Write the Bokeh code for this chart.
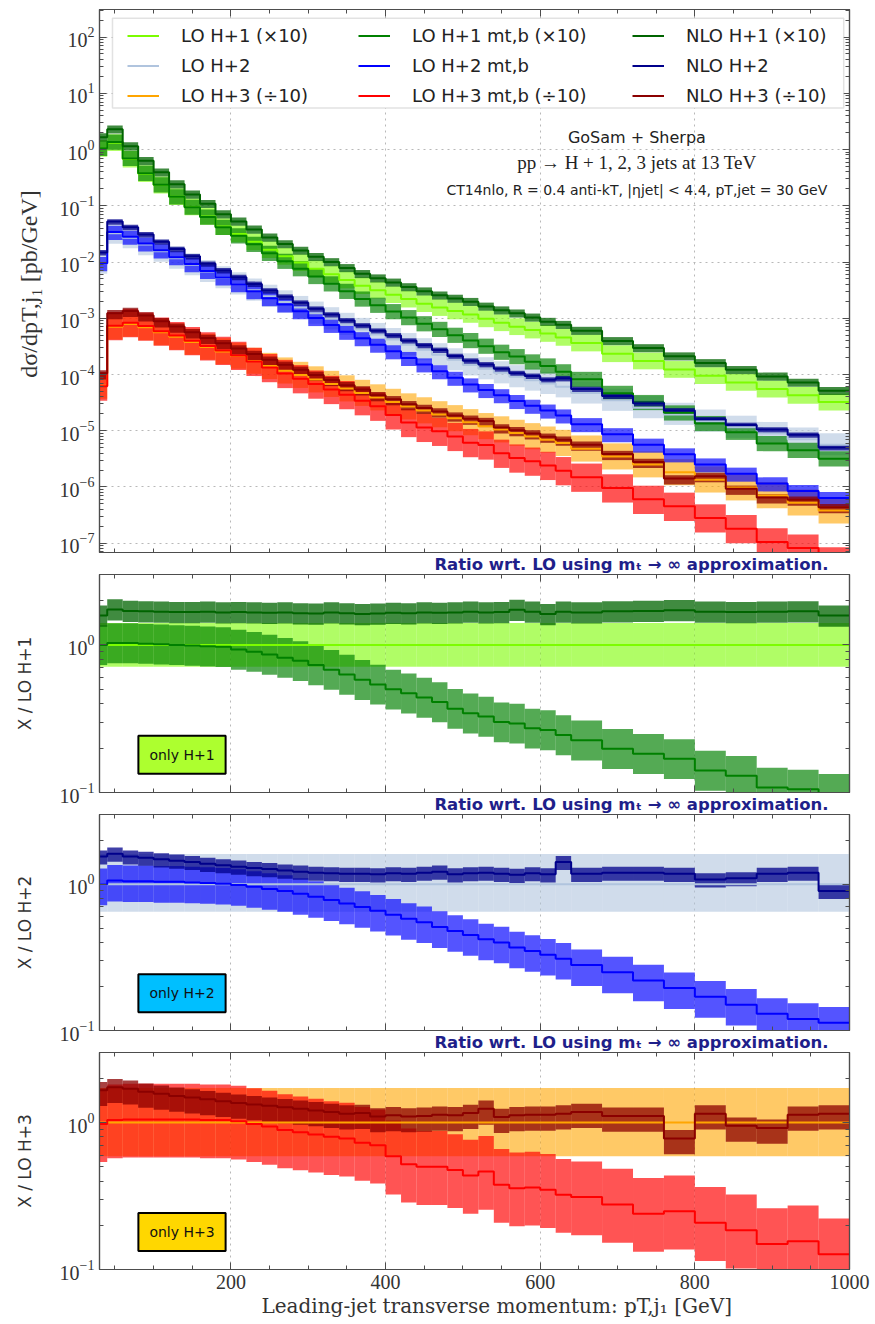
from bokeh.plotting import figure
from bokeh.models import (Range1d, FixedTicker, LinearAxis, LogAxis, Legend, LegendItem, Label,
                          BoxAnnotation, CustomJSTickFormatter, Title)
from bokeh.layouts import column
from bokeh.embed import file_html
from bokeh.resources import INLINE

# ---------------- data ----------------
bin_edges = [30, 40, 60, 80, 100, 120, 140, 160, 180, 200, 220, 240, 260, 280, 300, 320,
             340, 360, 380, 400, 420, 440, 460, 480, 500, 520, 540, 560, 580, 600, 620, 640,
             680, 720, 760, 800, 840, 880, 920, 960, 1000]

# LO (m_t -> infinity) central values as plotted in the main panel [pb/GeV]
lo_h1_x10 = [1.05, 1.32, 0.676, 0.372, 0.234, 0.145, 0.0955, 0.0646, 0.0427, 0.0316,
             0.0229, 0.0166, 0.0126, 0.00977, 0.00759, 0.00603, 0.00479, 0.00380, 0.00316, 0.00263,
             0.00219, 0.00182, 0.00155, 0.00135, 0.00117, 9.77e-4, 8.32e-4, 7.08e-4, 6.17e-4, 5.37e-4,
             4.57e-4, 3.63e-4, 2.34e-4, 1.74e-4, 1.23e-4, 9.55e-5, 7.24e-5, 5.50e-5, 4.27e-5, 3.24e-5]
lo_h2 = [9.55e-3, 0.0324, 0.0269, 0.0204, 0.0155, 0.0117, 8.91e-3, 6.76e-3, 5.25e-3, 4.07e-3,
         3.16e-3, 2.45e-3, 1.95e-3, 1.55e-3, 1.23e-3, 9.77e-4, 7.76e-4, 6.31e-4, 5.13e-4, 4.17e-4,
         3.39e-4, 2.75e-4, 2.24e-4, 1.82e-4, 1.48e-4, 1.26e-4, 1.07e-4, 9.12e-5, 7.94e-5, 6.92e-5,
         6.03e-5, 4.68e-5, 3.47e-5, 2.57e-5, 1.95e-5, 1.48e-5, 1.15e-5, 8.91e-6, 7.08e-6, 5.62e-6]
lo_h3_d10 = [6.31e-5, 7.08e-4, 7.94e-4, 6.92e-4, 5.62e-4, 4.68e-4, 3.80e-4, 3.09e-4, 2.57e-4, 2.14e-4,
             1.74e-4, 1.41e-4, 1.17e-4, 9.77e-5, 8.13e-5, 6.76e-5, 5.62e-5, 4.68e-5, 3.89e-5, 3.24e-5,
             2.69e-5, 2.29e-5, 1.95e-5, 1.66e-5, 1.41e-5, 1.20e-5, 1.05e-5, 9.12e-6, 7.94e-6, 6.92e-6,
             6.03e-6, 4.79e-6, 3.47e-6, 2.51e-6, 1.82e-6, 1.35e-6, 9.77e-7, 7.08e-7, 5.25e-7, 3.80e-7]

# ratios X / LO
mtb_h1 = [1.00, 1.03, 1.03, 1.02, 1.01, 1.00, 0.99, 0.98, 0.97, 0.93,
          0.90, 0.86, 0.82, 0.78, 0.73, 0.68, 0.63, 0.58, 0.54, 0.50,
          0.47, 0.44, 0.41, 0.37, 0.344, 0.327, 0.30, 0.294, 0.272, 0.265,
          0.245, 0.226, 0.198, 0.183, 0.169, 0.141, 0.130, 0.108, 0.105, 0.098]
nlo_h1 = [1.58, 1.74, 1.70, 1.69, 1.68, 1.67, 1.67, 1.68, 1.66, 1.67,
          1.66, 1.65, 1.66, 1.64, 1.63, 1.66, 1.64, 1.62, 1.63, 1.65,
          1.64, 1.66, 1.65, 1.66, 1.68, 1.66, 1.67, 1.73, 1.68, 1.62,
          1.68, 1.66, 1.69, 1.70, 1.72, 1.68, 1.67, 1.68, 1.69, 1.58]
mtb_h2 = [1.00, 1.06, 1.05, 1.05, 1.04, 1.04, 1.03, 1.02, 1.01, 0.99,
          0.96, 0.93, 0.90, 0.86, 0.82, 0.78, 0.74, 0.70, 0.66, 0.62,
          0.58, 0.55, 0.51, 0.48, 0.45, 0.42, 0.40, 0.37, 0.35, 0.33,
          0.31, 0.28, 0.25, 0.22, 0.195, 0.17, 0.15, 0.13, 0.12, 0.113]
nlo_h2 = [1.55, 1.62, 1.55, 1.52, 1.48, 1.45, 1.42, 1.38, 1.35, 1.32,
          1.29, 1.27, 1.24, 1.22, 1.20, 1.19, 1.18, 1.18, 1.17, 1.19,
          1.18, 1.20, 1.22, 1.17, 1.19, 1.20, 1.18, 1.16, 1.19, 1.17,
          1.42, 1.18, 1.20, 1.20, 1.18, 1.08, 1.10, 1.18, 1.20, 0.90]
mtb_h3 = [0.98, 1.04, 1.05, 1.05, 1.05, 1.05, 1.05, 1.04, 1.04, 1.02,
          0.98, 0.94, 0.89, 0.86, 0.83, 0.80, 0.78, 0.73, 0.70, 0.59,
          0.52, 0.50, 0.50, 0.476, 0.436, 0.464, 0.378, 0.358, 0.362, 0.349,
          0.323, 0.311, 0.277, 0.24, 0.249, 0.208, 0.185, 0.149, 0.156, 0.127]
nlo_h3 = [1.66, 1.74, 1.70, 1.62, 1.57, 1.52, 1.48, 1.44, 1.40, 1.36,
          1.33, 1.30, 1.27, 1.24, 1.21, 1.18, 1.15, 1.16, 1.10, 1.12,
          1.10, 1.11, 1.13, 1.12, 1.16, 1.24, 1.09, 1.12, 1.13, 1.13,
          1.15, 1.18, 1.11, 1.11, 0.78, 1.15, 0.95, 0.92, 1.13, 1.15]

# scale-variation band edges relative to the central value (lower, upper)
lo_band = [(0.71, 1.41), (0.65, 1.61), (0.59, 1.72)]
mtb_band = [(0.73, 1.36), (0.72, 1.28), (0.55, 1.75)]
nlo_band = [(0.84, 1.17), (0.88, 1.10), (0.78, 1.14)]

labels_lo = ["LO H+1 (×10)", "LO H+2", "LO H+3 (÷10)"]
labels_mtb = ["LO H+1 mt,b (×10)", "LO H+2 mt,b", "LO H+3 mt,b (÷10)"]
labels_nlo = ["NLO H+1 (×10)", "NLO H+2", "NLO H+3 (÷10)"]
ratio_ylabels = ["X / LO H+1", "X / LO H+2", "X / LO H+3"]
only_labels = ["only H+1", "only H+2", "only H+3"]
ratio_note = "Ratio wrt. LO using mₜ → ∞ approximation."

x_major = [200, 400, 600, 800, 1000]
x_minor = [50, 100, 150, 250, 300, 350, 450, 500, 550, 650, 700, 750, 850, 900, 950]
x_grid = [200, 400, 600, 800]
main_decades = [1e-7, 1e-6, 1e-5, 1e-4, 1e-3, 1e-2, 1e-1, 1e0, 1e1, 1e2]
ratio_major = [0.1, 1.0]
ratio_minor = [0.2, 0.3, 0.4, 0.5, 0.6, 0.7, 0.8, 0.9, 2.0, 3.0]

# ---------------- styles ----------------
C_LO = ["#7cfc00", "#b0c4de", "#ffa500"]
C_MTB = ["#008000", "#0000ff", "#ff0000"]
C_NLO = ["#006400", "#00008b", "#8b0000"]
C_ONLY = ["#adff2f", "#00bfff", "#ffd700"]
A_LO, A_MTB, A_NLO = 0.6, 0.67, 0.75
AX = "#4d4d4d"
SERIF = "Liberation Serif"
SANS = "DejaVu Sans"
NOTE_COLOR = "#1f1f8a"

lo_main = [lo_h1_x10, lo_h2, lo_h3_d10]
mtb_ratio = [mtb_h1, mtb_h2, mtb_h3]
nlo_ratio = [nlo_h1, nlo_h2, nlo_h3]

left = bin_edges[:-1]
right = bin_edges[1:]
main_minor = [m * d for d in [1e-8] + main_decades for m in range(2, 10)]

xr = Range1d(30, 1000)


def add_band(p, vals, band, color, alpha):
    p.quad(left=left, right=right, bottom=[v * band[0] for v in vals],
           top=[v * band[1] for v in vals], fill_color=color, fill_alpha=alpha, line_color=None)


def add_line(p, vals, color, width=2):
    return p.step(x=bin_edges, y=list(vals) + [vals[-1]], mode="after",
                  line_color=color, line_width=width)


def style_axis(ax, ticker, labels):
    ax.ticker = ticker
    ax.axis_line_color = AX
    ax.axis_line_width = 1.2
    ax.major_tick_line_color = AX
    ax.minor_tick_line_color = AX
    ax.major_tick_in = 7
    ax.major_tick_out = 0
    ax.minor_tick_in = 4
    ax.minor_tick_out = 0
    ax.major_label_text_font = SERIF
    ax.major_label_text_color = "#333333"
    ax.major_label_text_font_size = "20px"
    ax.axis_label_text_font_style = "normal"
    ax.axis_label_text_color = "#333333"
    if not labels:
        ax.formatter = CustomJSTickFormatter(code="return '';")
        ax.major_label_standoff = 0
    else:
        ax.major_label_standoff = 5


def new_fig(height, yr, btop, bbottom, ymajor, yminor, xlabels):
    p = figure(width=875, height=height, x_range=xr, y_range=yr, y_axis_type="log",
               output_backend="svg", toolbar_location=None,
               min_border_left=99, min_border_right=26, min_border_top=btop,
               min_border_bottom=bbottom)
    p.outline_line_color = AX
    p.outline_line_width = 1.2
    p.background_fill_color = "white"
    p.border_fill_color = "white"
    xt = FixedTicker(ticks=x_major, minor_ticks=x_minor)
    yt = FixedTicker(ticks=ymajor, minor_ticks=yminor)
    bottom_ax = p.xaxis[0]
    left_ax = p.yaxis[0]
    style_axis(bottom_ax, xt, xlabels)
    style_axis(left_ax, yt, True)
    top_ax = LinearAxis()
    style_axis(top_ax, xt, False)
    p.add_layout(top_ax, "above")
    right_ax = LogAxis()
    style_axis(right_ax, yt, False)
    p.add_layout(right_ax, "right")
    p.xgrid.ticker = FixedTicker(ticks=x_grid)
    p.ygrid.ticker = FixedTicker(ticks=ymajor)
    p.grid.grid_line_color = "#b8b8b8"
    p.grid.grid_line_dash = "2 4"
    p.grid.grid_line_width = 1
    return p, bottom_ax, left_ax


def add_note(p):
    # "Ratio wrt. ..." note shown just above the next ratio panel
    p.add_layout(Title(text=ratio_note, align="right", offset=21, standoff=1,
                       text_font=SANS, text_font_size="16.5px", text_font_style="bold",
                       text_color=NOTE_COLOR), "below")


# ---------------- main panel ----------------
p0, _, y0 = new_fig(574, Range1d(6.84e-8, 309), 9, 21, main_decades, main_minor, False)
y0.axis_label = "dσ/dpT,j₁  [pb/GeV]"
y0.axis_label_text_font = SERIF
y0.axis_label_text_font_size = "24px"
y0.axis_label_standoff = 15

mtb_main = [[a * b for a, b in zip(lo_main[g], mtb_ratio[g])] for g in range(3)]
nlo_main = [[a * b for a, b in zip(lo_main[g], nlo_ratio[g])] for g in range(3)]

for g in range(3):
    add_band(p0, lo_main[g], lo_band[g], C_LO[g], A_LO)
for g in range(3):
    add_band(p0, mtb_main[g], mtb_band[g], C_MTB[g], A_MTB)
for g in range(3):
    add_band(p0, nlo_main[g], nlo_band[g], C_NLO[g], A_NLO)
r_lo = [add_line(p0, lo_main[g], C_LO[g]) for g in range(3)]
r_mtb = [add_line(p0, mtb_main[g], C_MTB[g]) for g in range(3)]
r_nlo = [add_line(p0, nlo_main[g], C_NLO[g]) for g in range(3)]

# legend frame + three legend columns
p0.add_layout(BoxAnnotation(left=46.8, right=992.5, bottom=5.49, top=216, fill_color="white",
                            fill_alpha=1.0, line_color="#a0a0a0", line_width=1.5))
for col, (labs, rends) in enumerate([(labels_lo, r_lo), (labels_mtb, r_mtb), (labels_nlo, r_nlo)]):
    leg = Legend(items=[LegendItem(label=l, renderers=[r]) for l, r in zip(labs, rends)],
                 location=[(28, 446), (259, 446), (533, 446)][col],
                 orientation="vertical", padding=0, margin=0, spacing=9,
                 glyph_width=32, glyph_height=21, label_height=21, label_standoff=22,
                 border_line_alpha=0, background_fill_alpha=0,
                 label_text_font=SANS, label_text_font_size="18px", label_text_color="#222222")
    p0.add_layout(leg, "center")

for txt, yy, font, size in [("GoSam + Sherpa", 1.61, SANS, "16px"),
                            ("pp → H + 1, 2, 3 jets at 13 TeV", 0.58, SERIF, "19px"),
                            ("CT14nlo, R = 0.4 anti-kT, |ηjet| < 4.4, pT,jet = 30 GeV", 0.193, SANS, "14px")]:
    p0.add_layout(Label(x=725, y=yy, text=txt, text_align="center", text_baseline="middle",
                        text_font=font, text_font_size=size, text_color="#222222"))
add_note(p0)

# ---------------- ratio panels ----------------
ratio_specs = [(240, 0, 22, False, True), (238, 0, 22, False, True), (272, 0, 55, True, False)]
figs = [p0]
for g in range(3):
    h, bt, bb, xl, has_note = ratio_specs[g]
    p, bx, ly = new_fig(h, Range1d(0.1, 3.0), bt, bb, ratio_major, ratio_minor, xl)
    ly.axis_label = ratio_ylabels[g]
    ly.axis_label_text_font = SANS
    ly.axis_label_text_font_size = "17px"
    ly.axis_label_standoff = 22
    ones = [v / v for v in lo_main[g]]
    add_band(p, ones, lo_band[g], C_LO[g], A_LO)
    add_band(p, mtb_ratio[g], mtb_band[g], C_MTB[g], A_MTB)
    add_band(p, nlo_ratio[g], nlo_band[g], C_NLO[g], A_NLO)
    add_line(p, ones, C_LO[g])
    add_line(p, mtb_ratio[g], C_MTB[g])
    add_line(p, nlo_ratio[g], C_NLO[g])
    p.add_layout(Label(x=136.7, y=0.18, text=only_labels[g], text_align="center",
                       text_baseline="middle", text_font=SANS, text_font_size="14px",
                       text_color="#111111", background_fill_color=C_ONLY[g],
                       border_line_color="black", border_line_width=2, padding=11))
    if has_note:
        add_note(p)
    if xl:
        bx.axis_label = "\u00a0" * 9 + "Leading-jet transverse momentum:  pT,j₁  [GeV]"
        bx.axis_label_text_font = "DejaVu Serif"
        bx.axis_label_text_font_size = "20px"
        bx.axis_label_standoff = 2
    figs.append(p)

layout = column(*figs, spacing=0)
open("out.html", "w").write(file_html(layout, INLINE))
